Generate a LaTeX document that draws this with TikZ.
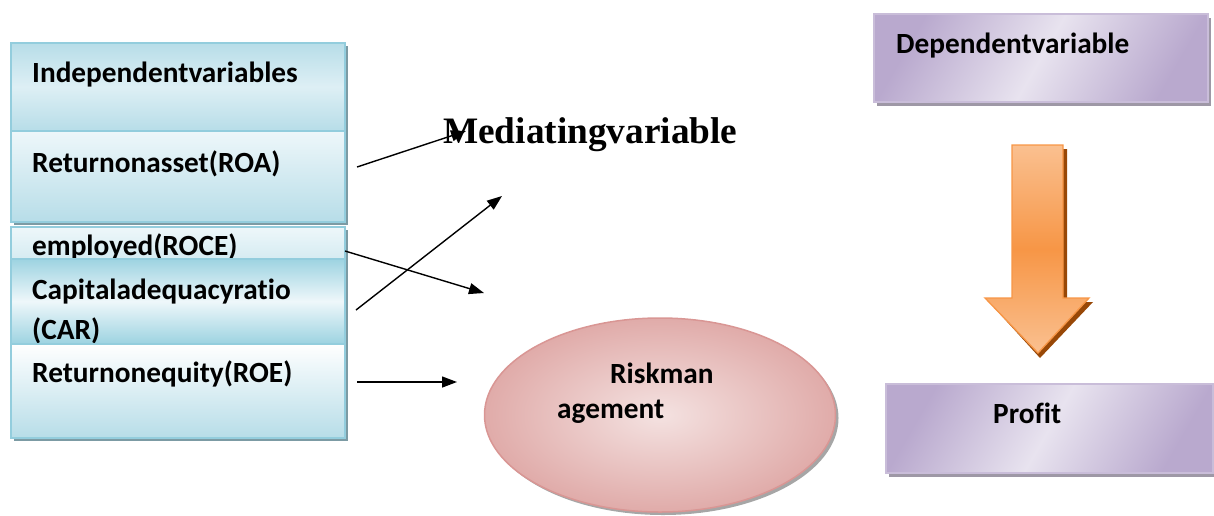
\documentclass[tikz,border=0pt]{standalone}
\usepackage{fontspec}
\setmainfont{Carlito}[BoldFont={Carlito Bold}]
\newfontfamily\calb{Carlito Bold}[Ligatures={NoCommon}]
\newfontfamily\timesb{Liberation Serif Bold}
\usetikzlibrary{arrows.meta,shapes.geometric,shadows}
\definecolor{bluebd}{HTML}{93CDDD}
\definecolor{bluedk}{HTML}{B7DDE8}
\definecolor{bluelt}{HTML}{EEF7FA}
\definecolor{bluemd}{HTML}{9DD3E1}
\definecolor{bshadow}{HTML}{7C9BA4}
\definecolor{purbd}{HTML}{C9BDD9}
\definecolor{purdk}{HTML}{B9A9CE}
\definecolor{purlt}{HTML}{E8E3EF}
\definecolor{pshadow}{HTML}{9E98A6}
\definecolor{redbd}{HTML}{D99694}
\definecolor{redlt}{HTML}{F4E2E1}
\definecolor{reddk}{HTML}{E0ABA9}
\definecolor{oranbd}{HTML}{F79646}
\definecolor{oranlt}{HTML}{FAC090}
\definecolor{orshadow}{HTML}{984807}
\tikzset{
  bbox/.style={draw=bluebd, line width=1.5pt, anchor=north west, minimum width=334pt, inner sep=0pt,
    drop shadow={shadow xshift=3pt, shadow yshift=-3pt, fill=bshadow, opacity=1}},
  pbox/.style={draw=purbd, line width=1.5pt, anchor=north west, inner sep=0pt,
    top color=purdk, bottom color=purdk, middle color=purlt, shading angle=60,
    drop shadow={shadow xshift=3pt, shadow yshift=-4pt, fill=pshadow, opacity=1}},
  lbl/.style={anchor=base west, inner sep=0pt, font=\calb\fontsize{29.3}{35}\selectfont},
  arr/.style={line width=1.4pt, -{Triangle[length=15pt,width=11pt]}},
}
\begin{document}
\begin{tikzpicture}[x=1pt,y=-1pt]
\useasboundingbox (0,0) rectangle (1214,515);
% left column
\node[bbox, minimum height=88pt, top color=bluedk, bottom color=bluedk, middle color=bluelt!70!bluedk] (b1) at (10,42) {};
\node[lbl] (t1) at (32,82) {Independentvariables};
\node[bbox, minimum height=91pt, top color=bluelt, bottom color=bluedk] (b2) at (10,130) {};
\node[lbl] (t2) at (32,172) {Returnonasset(ROA)};
\node[bbox, minimum height=34pt, top color=bluelt, bottom color=bluedk!60] (b3) at (10,226) {};
\node[lbl] (t3) at (32,255) {employed(ROCE)};
\node[bbox, minimum height=85pt, top color=bluemd, bottom color=bluemd, middle color=bluelt] (b4) at (10,258) {};
\node[lbl] (t4) at (32,299) {Capitaladequacyratio};
\node[lbl] (t4b) at (32,339) {(CAR)};
\node[bbox, minimum height=94pt, top color=white, bottom color=bluedk] (b5) at (10,343) {};
\node[lbl] (t5) at (32,382) {Returnonequity(ROE)};
% mediating
\node[anchor=base west, inner sep=0pt, font=\timesb\fontsize{37.3}{44}\selectfont] (med) at (443,143) {Mediatingvariable};
% ellipse
\node[ellipse, draw=redbd, line width=1.5pt, minimum width=351pt, minimum height=194pt, inner color=redlt, outer color=reddk,
  drop shadow={shadow xshift=3pt, shadow yshift=-3pt, fill=gray!70, opacity=1}] (rm) at (660,415) {};
\node[lbl] (rt1) at (610,383) {Riskman};
\node[lbl] (rt2) at (557,418) {agement};
% arrows
\coordinate (a1s) at (357,167); \coordinate (a1e) at (466,131);
\coordinate (a2s) at (345,251); \coordinate (a2e) at (484,293);
\coordinate (a3s) at (356,310); \coordinate (a3e) at (502,196);
\coordinate (a4s) at (357,382); \coordinate (a4e) at (457,382);
\draw[arr] (a1s) -- (a1e);
\draw[arr] (a2s) -- (a2e);
\draw[arr] (a3s) -- (a3e);
\draw[arr] (a4s) -- (a4e);
% right column
\node[pbox, minimum width=334pt, minimum height=88pt] (dv) at (873,13) {};
\node[lbl] (dvt) at (896,53) {Dependentvariable};
\fill[orshadow] (1016,149) -- (1067,149) -- (1067,302) -- (1093,302) -- (1040,358) -- (989,302) -- (1016,302) -- cycle;
\path[draw=oranbd, line width=1.3pt, top color=oranlt, bottom color=oranlt, middle color=oranbd]
  (1012,145) -- (1063,145) -- (1063,298) -- (1089,298) -- (1038,353) -- (985,298) -- (1012,298) -- cycle;
\node[pbox, minimum width=327pt, minimum height=89pt] (pr) at (885,383) {};
\node[lbl] (prt) at (993,423) {Profit};
\end{tikzpicture}
\end{document}
